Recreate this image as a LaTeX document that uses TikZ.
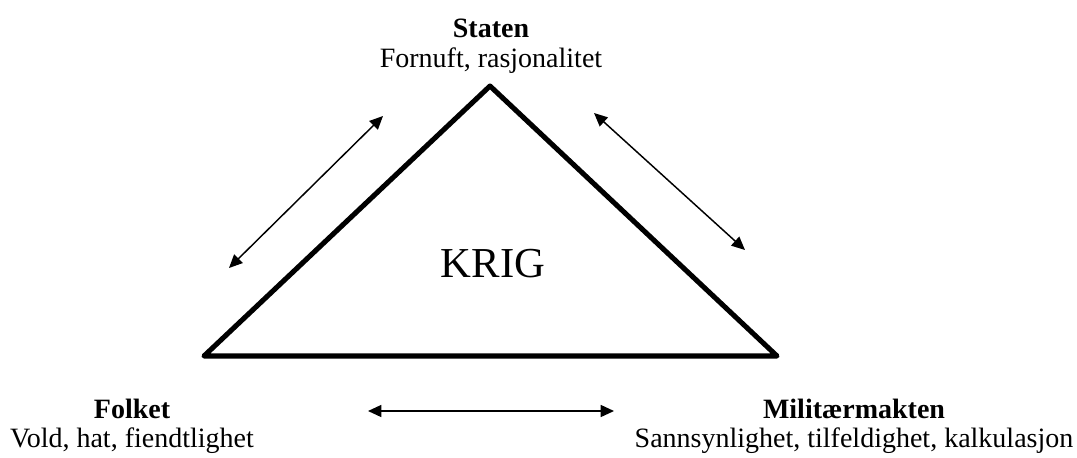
\documentclass[tikz,border=0pt]{standalone}
\usepackage{fontspec}
\setmainfont{Liberation Serif}
\usetikzlibrary{arrows.meta, positioning}
\begin{document}
\begin{tikzpicture}[
    x=0.75pt, y=-0.75pt,
    side/.style={line width=3.8pt, line join=round, line cap=round},
    link/.style={{Triangle[length=10pt,width=9pt]}-{Triangle[length=10pt,width=9pt]}, line width=1.1pt},
    head/.style={anchor=base, inner sep=0pt, font=\fontsize{21}{24}\selectfont\bfseries},
    sub/.style={anchor=base, inner sep=0pt, font=\fontsize{21}{24}\selectfont},
    core/.style={anchor=base, inner sep=0pt, font=\fontsize{32}{38}\selectfont},
  ]
    \useasboundingbox (0,0) rectangle (1077,457);
    % ===== trekanten =====
    \coordinate (top)   at (490,86);
    \coordinate (left)  at (204,356);
    \coordinate (right) at (777,356);
    \draw[side] (top) -- (left) -- (right) -- cycle;
    \node[core] (krig) at (493,277) {KRIG};
    % ===== hjørnene =====
    \node[head] (staten)   at (491,37)  {Staten};
    \node[sub]  (statenT)  at (491,67)  {Fornuft, rasjonalitet};
    \node[head] (folket)   at (132,418) {Folket};
    \node[sub]  (folketT)  at (132,447) {Vold, hat, fiendtlighet};
    \node[head] (militar)  at (854,418) {Militærmakten};
    \node[sub]  (militarT) at (854,447) {Sannsynlighet, tilfeldighet, kalkulasjon};
    % ===== vekselvirkninger =====
    \coordinate (lA) at (229,268);
    \coordinate (lB) at (383,116);
    \coordinate (rA) at (594,113);
    \coordinate (rB) at (745,250);
    \coordinate (bA) at (368,411);
    \coordinate (bB) at (614,411);
    \draw[link] (lA) -- (lB);
    \draw[link] (rA) -- (rB);
    \draw[link] (bA) -- (bB);
  \end{tikzpicture}
\end{document}
